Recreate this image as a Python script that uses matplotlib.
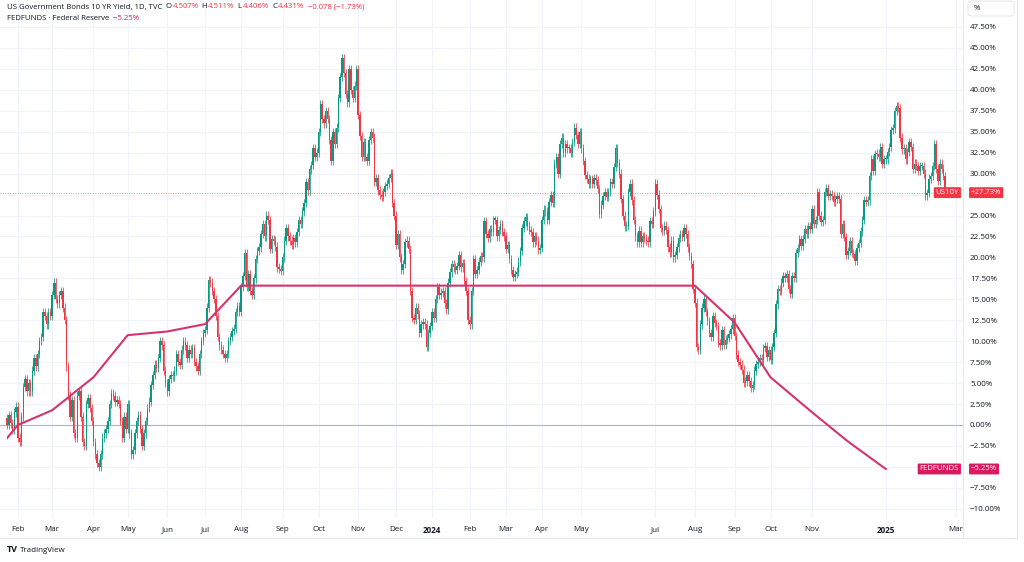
import matplotlib
matplotlib.use("Agg")
import matplotlib.pyplot as plt
import numpy as np
import pandas as pd
from matplotlib.patches import Rectangle, FancyBboxPatch
from matplotlib.lines import Line2D

plt.rcParams['font.family'] = ['Open Sans', 'DejaVu Sans']

# ---------------- data (percent change of US10Y daily closes) ----------------
jan23 = [0.0, 1.2, 0.2, -0.6, 1.5, 2.2]
feb23 = [-1.5, -2.0, 1.0, 4.5, 5.5, 4.0, 5.0, 4.0, 6.5, 8.0, 7.0, 8.5, 10.0, 10.5, 13.5, 13.0, 12.0, 13.5, 13.0]
mar23 = [15.5, 17.0, 15.0, 14.5, 15.5, 16.0, 14.0, 12.5, 7.0, 3.5, 1.0, 3.0, -1.0, -1.5, 3.5, 4.0, 1.0, -2.0, -2.5, 2.5, 3.2, 2.0, 0.5]
apr23 = [-2.0, -3.5, -4.5, -5.0, -3.5, -1.5, -1.0, -0.5, 0.5, 2.5, 3.8, 3.5, 2.8, 3.0, 2.5, 0.5, -1.5, 1.0, -0.5]
may23 = [2.5, -1.0, -3.5, -3.0, -1.0, 0.5, 1.2, -0.5, -2.5, -1.0, 0.5, 2.0, 2.8, 4.8, 6.0, 7.2, 6.8, 8.0, 10.0, 9.5, 6.5, 5.0]
jun23 = [4.0, 5.5, 6.0, 5.8, 6.5, 8.5, 7.5, 7.2, 9.0, 10.0, 9.5, 8.0, 9.0, 8.5, 9.2, 7.5, 7.0, 6.5, 8.5, 10.0, 11.0]
jul23 = [11.3, 14.0, 17.3, 17.0, 16.0, 15.0, 13.0, 10.5, 9.5, 9.0, 8.5, 8.0, 8.5, 10.0, 10.5, 11.2, 11.5, 13.5, 14.2, 13.5]
aug23 = [16.5, 17.8, 20.5, 16.5, 18.0, 16.0, 15.5, 17.5, 19.8, 20.8, 21.2, 22.8, 24.0, 22.5, 25.0, 24.5, 21.0, 22.2, 22.0, 21.3, 18.8, 18.6, 18.4]
sep23 = [20.0, 22.0, 23.5, 22.5, 22.0, 21.5, 22.3, 21.8, 23.0, 24.5, 24.0, 25.5, 26.5, 29.0, 28.0, 30.5, 31.0, 33.0, 32.0, 32.5]
oct23 = [35.0, 38.3, 36.5, 36.0, 37.5, 36.5, 34.0, 31.5, 35.0, 33.5, 35.5, 39.0, 41.5, 43.8, 42.0, 39.5, 38.5, 42.5, 40.0, 39.0, 40.5, 42.5]
nov23 = [37.0, 34.5, 32.0, 33.8, 32.0, 31.5, 34.0, 35.0, 34.3, 29.0, 29.5, 28.0, 27.5, 27.2, 27.8, 28.5, 28.8, 29.5, 30.0, 26.5, 25.0]
dec23 = [21.5, 22.8, 20.0, 18.5, 19.2, 21.8, 22.0, 21.0, 16.0, 12.8, 12.5, 14.0, 13.2, 11.0, 12.0, 12.3, 12.0, 9.3, 11.0, 11.8]
jan24 = [13.5, 12.8, 15.0, 16.5, 15.5, 15.8, 16.0, 14.5, 13.8, 17.0, 18.2, 19.2, 18.8, 18.5, 19.0, 20.3, 18.8, 19.3, 17.2, 16.0, 12.5]
feb24 = [12.0, 16.0, 19.8, 18.0, 18.5, 19.5, 20.2, 20.0, 24.3, 22.8, 22.3, 23.4, 23.0, 24.5, 24.5, 22.5, 23.3, 24.0, 23.0, 22.5]
mar24 = [21.0, 21.5, 19.8, 18.5, 17.7, 18.0, 18.3, 19.5, 20.8, 23.5, 24.3, 24.8, 23.8, 23.3, 23.0, 21.8, 22.5, 22.0, 20.9, 21.1]
apr24 = [24.5, 25.7, 25.5, 24.5, 26.6, 27.4, 26.5, 31.2, 32.0, 30.0, 33.5, 34.3, 32.5, 33.5, 33.0, 33.0, 32.5, 33.8, 35.5, 34.6, 33.5, 35.0]
may24 = [33.0, 31.5, 29.8, 29.4, 28.8, 29.3, 28.8, 29.5, 29.2, 28.2, 25.2, 26.3, 27.3, 27.8, 27.2, 27.8, 29.0, 28.8, 30.8, 33.0, 31.3, 30.0]
jun24 = [27.0, 25.0, 23.7, 23.8, 27.8, 28.8, 26.8, 24.5, 22.5, 21.8, 23.2, 21.8, 22.5, 22.3, 22.0, 21.8, 24.3, 24.0, 25.5]
jul24 = [28.8, 27.5, 25.8, 23.5, 23.2, 23.8, 23.3, 21.2, 20.6, 22.0, 20.0, 20.3, 21.2, 22.3, 22.8, 22.4, 23.5, 22.8, 21.2, 20.2, 19.2, 16.2]
aug24 = [14.6, 9.3, 9.0, 12.0, 14.0, 15.0, 13.5, 12.4, 11.0, 10.5, 13.0, 12.2, 11.8, 9.8, 9.5, 11.3, 9.6, 10.2, 10.4, 10.8, 11.4, 12.8]
sep24 = [10.6, 8.4, 7.5, 7.2, 6.6, 5.0, 5.2, 6.0, 5.2, 4.4, 4.8, 6.5, 7.3, 7.5, 8.0, 7.7, 9.2, 9.4, 8.1, 8.9]
oct24 = [7.8, 9.3, 11.0, 14.4, 16.2, 16.0, 17.0, 17.8, 17.6, 18.0, 16.2, 15.6, 17.8, 17.6, 20.5, 21.1, 22.2, 21.4, 22.2, 23.4, 22.8, 23.7, 23.4]
nov24 = [25.8, 24.0, 24.5, 27.8, 25.0, 24.2, 24.5, 27.8, 28.3, 27.3, 27.6, 27.3, 26.6, 27.0, 27.3, 27.0, 22.8, 24.0, 22.4, 20.3]
dec24 = [20.8, 21.9, 20.5, 20.4, 19.6, 21.1, 21.7, 23.1, 24.5, 26.8, 26.6, 26.8, 29.7, 31.7, 30.3, 32.3, 32.4, 32.0, 33.2, 31.2, 31.7]
jan25 = [31.7, 32.6, 33.2, 35.2, 35.4, 37.5, 38.1, 37.8, 34.3, 32.9, 33.0, 31.7, 32.6, 33.8, 33.2, 30.6, 31.2, 30.9, 30.3, 30.9]
feb25 = [30.9, 30.0, 27.4, 27.7, 29.4, 29.7, 30.9, 33.5, 30.6, 29.1, 31.2, 30.6, 29.7, 27.73]
first_open = 0.8

# FEDFUNDS monthly, percent change (Jan 2023 .. Jan 2025)
fed_months = pd.period_range('2023-01', '2025-01', freq='M')
fed_values = [-5.25, 0.00, 1.75, 5.69, 10.72, 11.16, 12.04, 16.63, 16.63, 16.63, 16.63, 16.63,
              16.63, 16.63, 16.63, 16.63, 16.63, 16.63, 16.63, 16.63, 12.25, 5.69, 1.53, -1.97, -5.25]

holidays = ['2023-01-16', '2023-02-20', '2023-04-07', '2023-05-29', '2023-06-19', '2023-07-04',
            '2023-09-04', '2023-11-23', '2023-12-25', '2024-01-01', '2024-01-15', '2024-02-19',
            '2024-03-29', '2024-05-27', '2024-06-19', '2024-07-04', '2024-09-02', '2024-11-28',
            '2024-12-25', '2025-01-01', '2025-01-09', '2025-01-20', '2025-02-17']

hidden_months = ['2024-06', '2024-12', '2025-02']

# ---------------- style ----------------
UP = '#089981'
DN = '#f23645'
FED = '#d6336c'
FED_BOX = '#d81b60'
TXT = '#131722'
GRID = '#f0f3fa'
W, H = 1024, 562

closes = np.concatenate([jan23, feb23, mar23, apr23, may23, jun23, jul23, aug23, sep23, oct23,
                         nov23, dec23, jan24, feb24, mar24, apr24, may24, jun24, jul24, aug24,
                         sep24, oct24, nov24, dec24, jan25, feb25])
opens = np.r_[first_open, closes[:-1]]
WICK = 0.5
highs = np.maximum(opens, closes) + WICK
lows = np.minimum(opens, closes) - WICK

cal = pd.bdate_range('2023-01-03', '2025-03-14')
cal = cal[~cal.isin(pd.to_datetime(holidays))]
i0 = cal.get_loc(pd.Timestamp('2023-01-24'))
cal_x = np.arange(len(cal)) - i0
pos = pd.Series(cal_x, index=cal)
first_of_month = pos.groupby(cal.to_period('M')).first()

x = np.arange(len(closes))

fig = plt.figure(figsize=(W / 100, H / 100), dpi=100)
fig.patch.set_facecolor('white')
pane_bottom = 518
pane_right = 963
ax = fig.add_axes([0, 1 - pane_bottom / H, pane_right / W, pane_bottom / H])
ax.set_facecolor('white')

px_per_bar = (956 - 7) / first_of_month[pd.Period('2025-03', 'M')]
ax.set_xlim(-7 / px_per_bar, (pane_right - 7) / px_per_bar)
ax.set_ylim(-11.1, 50.72)

for s in ax.spines.values():
    s.set_visible(False)

# grid & ticks (labels under the price tags are hidden, as in the scale)
last_val = closes[-1]
fed_last = fed_values[-1]
yt = np.arange(-10, 47.6, 2.5)
ax.set_yticks(yt)
ylabels = []
for v in yt:
    if abs(v - last_val) < 1.3 or abs(v - fed_last) < 1.3:
        ylabels.append('')
    else:
        ylabels.append((f"{v:.2f}%").replace('-', '\u2212'))
ax.set_yticklabels(ylabels)
ax.yaxis.tick_right()

xt, xl = [], []
for per, xv in first_of_month.items():
    if xv < 0 or xv > ax.get_xlim()[1] or str(per) in hidden_months:
        continue
    xt.append(xv)
    xl.append(str(per.year) if per.month == 1 else per.strftime('%b'))
ax.set_xticks(xt)
ax.set_xticklabels(xl)
for lab in ax.get_xticklabels():
    if lab.get_text().isdigit():
        lab.set_fontweight('bold')
ax.tick_params(axis='both', length=0, labelsize=5.8, colors=TXT)
ax.tick_params(axis='y', pad=5)
ax.tick_params(axis='x', pad=6)
ax.grid(True, color=GRID, lw=0.8, zorder=0)
ax.set_axisbelow(True)

# zero baseline and last price line
ax.axhline(0, color='#b2b5be', lw=0.8, zorder=1)
ax.axhline(last_val, color=DN, lw=0.7, ls=(0, (1, 1.5)), alpha=0.55, zorder=1)

# candles
colors = np.where(closes >= opens, UP, DN)
ax.vlines(x, lows, highs, colors=colors, lw=0.7, alpha=0.8, zorder=2)
ax.bar(x, np.maximum(np.abs(closes - opens), 0.15), bottom=np.minimum(opens, closes),
       width=0.78, color=colors, linewidth=0, zorder=3)

# FEDFUNDS line
fx = [first_of_month[p] for p in fed_months]
line, = ax.plot(fx, fed_values, color=FED, lw=1.5, zorder=4, solid_joinstyle='round')
clip = Rectangle((0, -100), 10000, 300, transform=ax.transData)
line.set_clip_path(clip)

# price labels
def tag(val, name, value_txt, color):
    ax.annotate(name, xy=(1, val), xycoords=('axes fraction', 'data'), xytext=(-4, 0),
                textcoords='offset pixels', ha='right', va='center', color='white',
                fontsize=5.6, annotation_clip=False, zorder=6,
                bbox=dict(boxstyle='round,pad=0.25,rounding_size=0.12', fc=color, ec='none'))
    ax.annotate(value_txt, xy=(1, val), xycoords=('axes fraction', 'data'), xytext=(8, 0),
                textcoords='offset pixels', ha='left', va='center', color='white',
                fontsize=5.6, annotation_clip=False, zorder=6,
                bbox=dict(boxstyle='round,pad=0.25,rounding_size=0.12', fc=color, ec='none'))

tag(last_val, 'US10Y', f"+{last_val:.2f}%", DN)
tag(fed_last, 'FEDFUNDS', f"{fed_last:.2f}%".replace('-', '\u2212'), FED_BOX)

# frame lines
fig.add_artist(Line2D([pane_right / W, pane_right / W], [1 - 538 / H, 1], color='#e0e3eb', lw=0.6))
fig.add_artist(Line2D([0, 1017 / W], [1 - 538 / H, 1 - 538 / H], color='#e0e3eb', lw=0.6))
fig.add_artist(Line2D([1017 / W, 1017 / W], [1 - 538 / H, 1], color='#e0e3eb', lw=0.6))

# % box top right
fig.add_artist(FancyBboxPatch((968 / W, 1 - 16 / H), 46 / W, 15 / H,
                              boxstyle='round,pad=0,rounding_size=0.004', fc='white',
                              ec='#e0e3eb', lw=0.6, transform=fig.transFigure))
fig.text(974 / W, 1 - 8.5 / H, '%', fontsize=5.6, color=TXT, va='center', ha='left')

# legend lines
def chain(parts, x_px, y_px, fs=5.6):
    t = fig.text(x_px / W, 1 - y_px / H, parts[0][0], color=parts[0][1], fontsize=fs,
                 va='center', ha='left')
    for s, c in parts[1:]:
        t = ax.annotate(s, xy=(1, 0.5), xycoords=t, xytext=(0, 0), textcoords='offset points',
                        va='center', ha='left', color=c, fontsize=fs, annotation_clip=False)

chain([("US Government Bonds 10 YR Yield, 1D, TVC", TXT), ("  O", TXT), ("4.507%", DN),
       ("  H", TXT), ("4.511%", DN), ("  L", TXT), ("4.406%", DN), ("  C", TXT), ("4.431%", DN),
       ("  \u22120.078 (\u22121.73%)", DN)], 7, 7)
chain([("FEDFUNDS \u00b7 Federal Reserve", TXT), ("  \u22125.25%", FED_BOX)], 7, 18)

# TradingView mark
fig.text(7 / W, 1 - 550 / H, 'TV', fontsize=6.5, fontweight='bold', color=TXT, va='center', ha='left')
fig.text(20 / W, 1 - 550 / H, 'TradingView', fontsize=5.8, color=TXT, va='center', ha='left')

fig.savefig('out.png', dpi=100, facecolor='white')
